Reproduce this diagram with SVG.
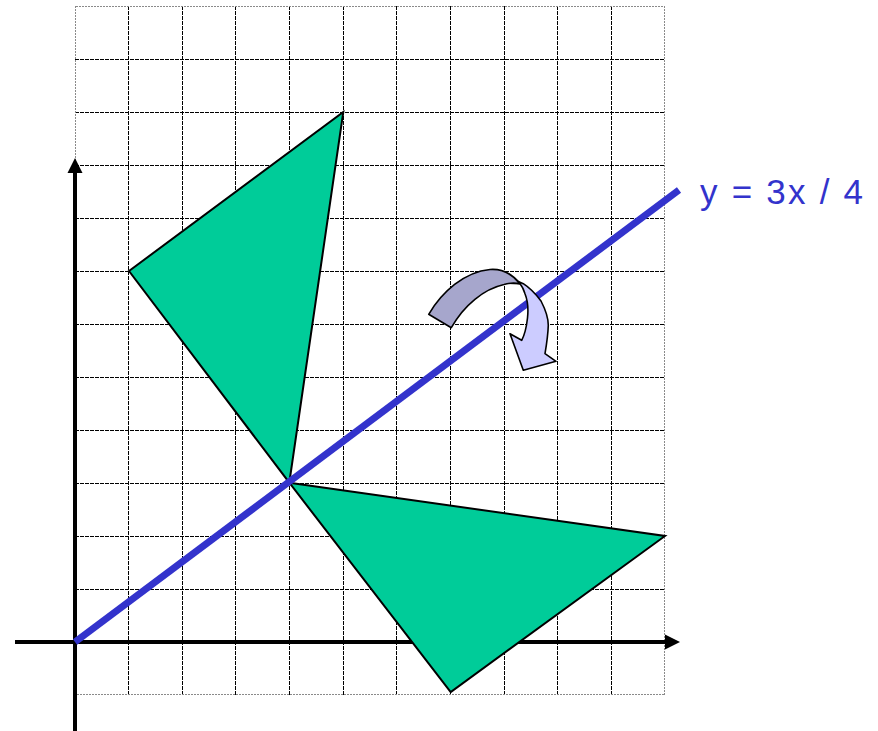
<svg xmlns="http://www.w3.org/2000/svg" width="878" height="731" viewBox="0 0 878 731">
<style>
.g{stroke:#000;stroke-width:1;stroke-dasharray:4 1;fill:none;shape-rendering:crispEdges}
.gb{stroke:#8a8a8a;stroke-width:1;stroke-dasharray:2 1;fill:none;shape-rendering:crispEdges}
.ax{stroke:#000;stroke-width:4;fill:none}
.tri{fill:#00CC99;stroke:#000;stroke-width:2;stroke-linejoin:miter}
.mir{stroke:#3333CC;stroke-width:7;fill:none}
.lbl{font-family:"Liberation Sans",Arial,sans-serif;font-size:35px;fill:#3333CC}
</style>
<rect width="878" height="731" fill="#fff"/>
<g id="grid">
<path class="g" d="M128.5,6V695M182.5,6V695M235.5,6V695M289.5,6V695M343.5,6V695M396.5,6V695M450.5,6V695M504.5,6V695M557.5,6V695M611.5,6V695"/>
<path class="g" d="M75,59.5H665M75,112.5H665M75,165.5H665M75,218.5H665M75,271.5H665M75,324.5H665M75,377.5H665M75,430.5H665M75,483.5H665M75,536.5H665M75,589.5H665"/>
<path class="gb" d="M75.5,6.5H664.5V694.5H75.5Z"/>
</g>
<g id="axes">
<line class="ax" x1="15" y1="642" x2="666" y2="642"/>
<polygon points="665,634.5 680,642 665,649.5" fill="#000"/>
<line class="ax" x1="75" y1="731" x2="75" y2="172"/>
<polygon points="67.5,173 75,158 82.5,173" fill="#000"/>
</g>
<g id="triangle-original">
<polygon class="tri" points="129,271 343.3,112 289.3,482.7"/>
</g>
<g id="triangle-image">
<polygon class="tri" points="289.3,482.7 665,536 450.7,692"/>
</g>
<g id="mirror-line">
<line class="mir" x1="75" y1="642" x2="679" y2="190"/>
</g>
<g id="rotation-arrow" stroke="#000" stroke-width="1.6" stroke-linejoin="round">
<path fill="#CCCCFF" d="M500,276 C508,277 516,280 523.3,283.7 C530,288 536.7,295.3 541,301 C545,308.7 548.3,317 548.3,325.3 C548,334 547,342 545,353.7 L556,361.3 L523.3,370.3 L510,333.7 L521.7,340.3 C525,334 526.7,325.3 527.5,318 C528.5,308.7 527.5,300 525,293.7 C523.5,289 522,286 520,283.7 L505,283 Z"/>
<path fill="#A6A6CC" d="M428.7,314.3 C442,292 464,272 490,269.5 C503,268.5 513,275 520,283.7 C514,282.5 509,283 504,284.5 C484,289 464,305 451.3,327.7 Z"/>
</g>
<g id="label">
<text class="lbl" x="700" y="204" textLength="163" lengthAdjust="spacing">y = 3x / 4</text>
</g>
</svg>
